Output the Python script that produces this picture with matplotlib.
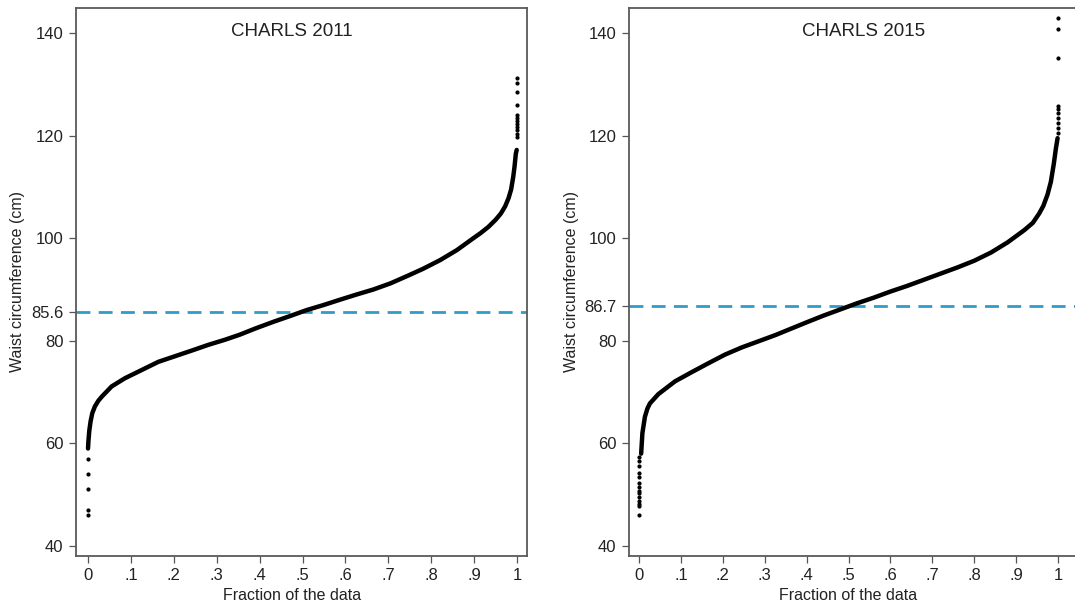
import matplotlib
matplotlib.use("Agg")
import matplotlib.pyplot as plt

plt.rcParams['font.family'] = ['Liberation Sans', 'DejaVu Sans']

# CHARLS 2011 quantile curve (fraction of data, waist cm)
frac_2011 = [0.0, 0.001, 0.003, 0.006, 0.01, 0.016, 0.024, 0.032, 0.055, 0.086, 0.125, 0.164,
             0.203, 0.242, 0.280, 0.319, 0.354, 0.39, 0.432, 0.47, 0.51, 0.55,
             0.587, 0.625, 0.665, 0.705, 0.743, 0.78, 0.82, 0.86, 0.898, 0.915,
             0.933, 0.95, 0.962, 0.972, 0.98, 0.986, 0.991, 0.994, 0.997, 0.999]
waist_2011 = [59.0, 60.5, 62.5, 64.3, 65.9, 67.2, 68.3, 69.1, 71.1, 72.7, 74.3, 75.9,
              77.0, 78.1, 79.2, 80.2, 81.2, 82.4, 83.7, 84.8, 86.0, 87.0,
              88.0, 89.0, 90.0, 91.2, 92.6, 94.0, 95.7, 97.7, 100.0, 101.0,
              102.2, 103.6, 104.8, 106.2, 107.8, 109.5, 112.0, 114.0, 116.5, 117.2]
low_2011 = [56.9, 54.0, 51.2, 47.1, 46.0]
high_2011 = [119.8, 120.4, 121.0, 121.6, 122.2, 122.8, 123.4, 124.0, 126.0, 128.4, 130.2, 131.2]
mean_2011 = 85.6

# CHARLS 2015
frac_2015 = [0.005, 0.008, 0.014, 0.02, 0.026, 0.046, 0.086, 0.126, 0.165, 0.205, 0.245,
             0.285, 0.325, 0.364, 0.40, 0.44, 0.48, 0.52, 0.56, 0.60, 0.64,
             0.68, 0.72, 0.76, 0.80, 0.84, 0.88, 0.92, 0.94, 0.955, 0.965,
             0.975, 0.983, 0.99, 0.995, 0.999]
waist_2015 = [58.0, 62.0, 65.2, 66.8, 67.8, 69.6, 72.1, 73.9, 75.6, 77.3, 78.7,
              79.9, 81.1, 82.4, 83.6, 84.9, 86.1, 87.3, 88.4, 89.6, 90.7,
              91.9, 93.1, 94.3, 95.6, 97.2, 99.2, 101.6, 103.0, 104.8, 106.3,
              108.5, 111.0, 114.5, 117.5, 119.5]
low_2015 = [57.4, 56.5, 55.5, 54.2, 53.5, 52.3, 51.5, 50.8, 50.3, 49.6, 48.8, 48.2, 47.7, 46.0]
high_2015 = [120.5, 121.5, 122.5, 123.5, 124.5, 125.2, 125.7, 135.1, 140.7, 142.9]
mean_2015 = 86.7

xticks = [0, .1, .2, .3, .4, .5, .6, .7, .8, .9, 1]
xticklabels = ['0', '.1', '.2', '.3', '.4', '.5', '.6', '.7', '.8', '.9', '1']
yticks = [40, 60, 80, 100, 120, 140]

fig = plt.figure(figsize=(10.75, 6.03), dpi=100)
W, H = 1075.0, 603.0
ax1 = fig.add_axes([76 / W, 47 / H, 451 / W, 548 / H])
ax2 = fig.add_axes([629 / W, 47 / H, 460 / W, 548 / H])

panels = [
    (ax1, frac_2011, waist_2011, low_2011, high_2011, mean_2011, 'CHARLS 2011', (-0.028, 1.023), 0.476, -0.113, 0.48),
    (ax2, frac_2015, waist_2015, low_2015, high_2015, mean_2015, 'CHARLS 2015', (-0.024, 1.074), 0.535, -0.109, 0.476),
]

for ax, fr, wv, lo, hi, m, title, xl, tx, lx, bx in panels:
    ax.axhline(m, color='#2f9dc8', lw=2.0, dashes=(5, 3), zorder=1)
    ax.plot(fr, wv, color='black', lw=3.2, solid_capstyle='round', zorder=3)
    ax.plot([0] * len(lo), lo, 'o', color='black', ms=2.0, zorder=3)
    ax.plot([1] * len(hi), hi, 'o', color='black', ms=2.0, zorder=3)
    ax.set_xlim(*xl)
    ax.set_ylim(38.05, 144.87)
    ax.set_xticks(xticks)
    ax.set_xticklabels(xticklabels)
    yt = sorted(yticks + [m])
    ax.set_yticks(yt)
    ax.set_yticklabels([str(m) if v == m else str(v) for v in yt])
    ax.tick_params(axis='both', direction='out', length=5, width=0.9, color='#555555',
                   labelsize=12, labelcolor='#222222', pad=4)
    for s in ax.spines.values():
        s.set_color('#595959')
        s.set_linewidth(1.3)
    ax.text(tx, 140.3, title, ha='center', va='center', fontsize=13.5, color='#222222')
    ax.set_xlabel('Fraction of the data', fontsize=11.5, color='#222222')
    ax.xaxis.set_label_coords(bx, -0.058)
    ax.set_ylabel('Waist circumference (cm)', fontsize=11.5, color='#222222')
    ax.yaxis.set_label_coords(lx, 0.5)

fig.savefig('out.png', dpi=100)
